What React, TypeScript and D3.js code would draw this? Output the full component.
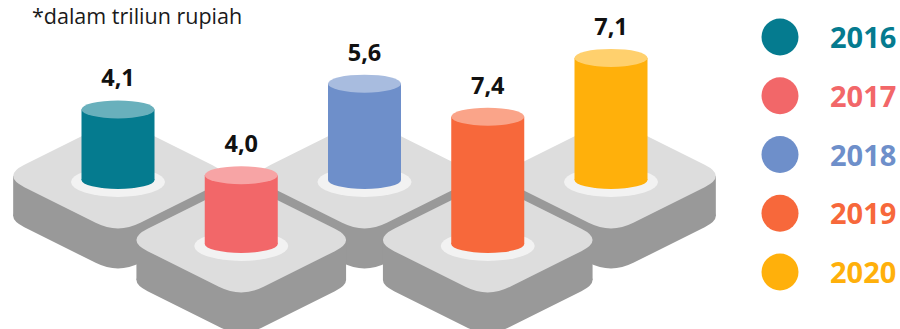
import React from "react";
import * as d3 from "d3";

const years = ["2016", "2017", "2018", "2019", "2020"];
const values = [4.1, 4.0, 5.6, 7.4, 7.1];
const colors = ["#057b8f", "#f26769", "#6e8fca", "#f7683b", "#ffb00b"];
const subtitle = "*dalam triliun rupiah";

const W = 900;
const H = 329;
const FONT = "'Open Sans', 'Noto Sans', sans-serif";

const idLocale = d3.formatLocale({ decimal: ",", thousands: ".", grouping: [3], currency: ["Rp", ""] });
const fmt = idLocale.format(".1f");

// layout constants
const A = 116; // half diagonal width (sharp)
const B = 58; // half diagonal height (sharp)
const CUT = 25; // rounding cut along the edges
const THICK = 40; // platform thickness
const CYL_RX = 36.5;
const CYL_RY = 9;

function roundedDiamond(cx: number, cy: number): string {
  const pts: [number, number][] = [
    [cx, cy - B],
    [cx + A, cy],
    [cx, cy + B],
    [cx - A, cy],
  ];
  const n = pts.length;
  const p = d3.path();
  for (let i = 0; i < n; i++) {
    const prev = pts[(i - 1 + n) % n];
    const cur = pts[i];
    const next = pts[(i + 1) % n];
    const l1 = Math.hypot(prev[0] - cur[0], prev[1] - cur[1]);
    const l2 = Math.hypot(next[0] - cur[0], next[1] - cur[1]);
    const s: [number, number] = [cur[0] + ((prev[0] - cur[0]) / l1) * CUT, cur[1] + ((prev[1] - cur[1]) / l1) * CUT];
    const e: [number, number] = [cur[0] + ((next[0] - cur[0]) / l2) * CUT, cur[1] + ((next[1] - cur[1]) / l2) * CUT];
    if (i === 0) p.moveTo(s[0], s[1]);
    else p.lineTo(s[0], s[1]);
    p.quadraticCurveTo(cur[0], cur[1], e[0], e[1]);
  }
  p.closePath();
  return p.toString();
}

export default function App() {
  const x = d3.scalePoint<string>().domain(years).range([118, 611]);
  const rowY = (i: number) => (i % 2 === 0 ? 176 : 240);
  const h = d3.scaleLinear().domain([0, 8]).range([0, 8 * 17.2]);
  const lg = d3.scalePoint<string>().domain(years).range([37, 272]);

  const order = d3.range(years.length).sort((a, b) => (a % 2) - (b % 2) || a - b);
  const ext = A - 0.447 * CUT; // extreme x after rounding

  return (
    <svg
      width={W}
      height={H}
      viewBox={`0 0 ${W} ${H}`}
      style={{ position: "fixed", left: 0, top: 0, background: "#fff" }}
    >
      <text x={32} y={23.5} fontFamily={FONT} fontSize={21.5} fill="#1a1a1a">
        {subtitle}
      </text>

      {order.map((i) => {
        const cx = x(years[i]) as number;
        const cy = rowY(i);
        const base = cy + 4;
        const top = base - h(values[i]);
        const topColor = d3.interpolateRgb(colors[i], "#ffffff")(0.4);
        return (
          <g key={years[i]}>
            <path d={roundedDiamond(cx, cy + THICK)} fill="#999999" />
            <rect x={cx - ext} y={cy} width={ext * 2} height={THICK} fill="#999999" />
            <path d={roundedDiamond(cx, cy)} fill="#dddddd" />
            <ellipse cx={cx} cy={cy + 6} rx={47} ry={15} fill="#f2f2f2" />
            <ellipse cx={cx} cy={base} rx={CYL_RX} ry={CYL_RY} fill={colors[i]} />
            <rect x={cx - CYL_RX} y={top} width={CYL_RX * 2} height={base - top} fill={colors[i]} />
            <ellipse cx={cx} cy={top} rx={CYL_RX} ry={CYL_RY} fill={topColor} />
            <text
              x={cx}
              y={top - 23}
              textAnchor="middle"
              fontFamily={FONT}
              fontWeight={700}
              fontSize={23.5}
              fill="#111"
            >
              {fmt(values[i])}
            </text>
          </g>
        );
      })}

      {years.map((yr, i) => (
        <g key={"lg" + yr}>
          <circle cx={780} cy={lg(yr) as number} r={18.5} fill={colors[i]} />
          <text
            x={830}
            y={(lg(yr) as number) + 11}
            fontFamily={FONT}
            fontWeight={700}
            fontSize={29}
            fill={colors[i]}
          >
            {yr}
          </text>
        </g>
      ))}
    </svg>
  );
}
